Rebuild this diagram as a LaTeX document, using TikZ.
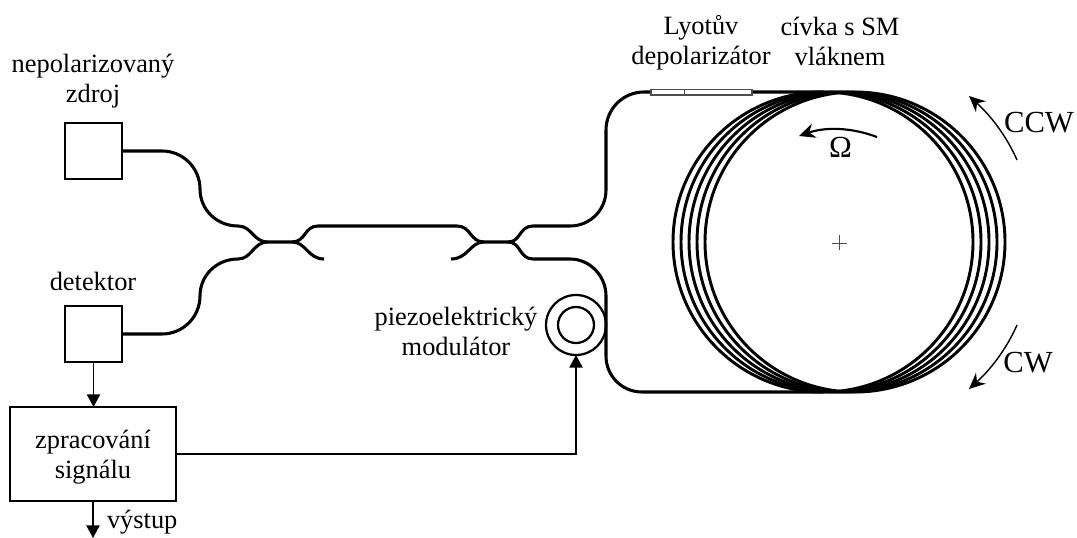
\documentclass[tikz,border=0pt]{standalone}
\usepackage{fontspec}
\setmainfont{Liberation Serif}
\usetikzlibrary{arrows.meta,calc}
\tikzset{
  fibre/.style={line width=2.3pt,line cap=butt,line join=round},
  coilfibre/.style={line width=2.2pt},
  boxnode/.style={draw,line width=1.05pt,fill=white,inner sep=0pt,outer sep=0pt},
  label/.style={inner sep=0pt,outer sep=0pt,align=center,font=\fontsize{19.8}{22.5}\selectfont},
  bigl/.style={inner sep=0pt,outer sep=0pt,font=\fontsize{23}{26}\selectfont},
  sig/.style={line width=1.05pt,-{Triangle[length=9.5pt,width=10pt]}},
  rot/.style={line width=1.05pt,-{Stealth[length=12pt,width=11pt]}},
  ring/.style={circle,draw,line width=1.7pt,inner sep=0pt,outer sep=0pt},
}
\begin{document}
\begin{tikzpicture}[x=0.75pt,y=-0.75pt]
\useasboundingbox (0,0) rectangle (1077,538);
% boxes
\node[boxnode,minimum width=42.75pt,minimum height=42pt] (src) at (93.5,151) {};
\node[boxnode,minimum width=42.75pt,minimum height=42pt] (det) at (93.5,334) {};
\node[boxnode,minimum width=124.5pt,minimum height=70.5pt] (proc) at (93,454) {};
\node[label] (proctext) at (93,457) {zpracování\\signálu};
% labels
\node[label] (srcl) at (93,81) {nepolarizovaný\\zdroj};
\node[label] (detl) at (93,281) {detektor};
\node[label] (lyot) at (701,43) {Lyotův\\depolarizátor};
\node[label] (spool) at (840,41) {cívka s SM\\vláknem};
\node[label] (piezol) at (456,331) {piezoelektrický\\modulátor};
\node[label,anchor=west] (outl) at (107,522) {výstup};
\node[bigl] (ccw) at (1039,123) {CCW};
\node[bigl] (cw) at (1028,363) {CW};
\node[bigl] (omega) at (840.5,147) {Ω};
% centre mark
\coordinate (cc) at (839,243);
\draw[line width=.6pt,black!70] ($(cc)+(-7.5,0)$) -- ($(cc)+(7.5,0)$) ($(cc)+(0,-7.5)$) -- ($(cc)+(0,7.5)$);
% couplers
\coordinate (a1) at (268,242); \coordinate (a2) at (292,242);
\coordinate (b1) at (484,242); \coordinate (b2) at (508,242);
\coordinate (stubL) at (324,259); \coordinate (stubR) at (451,259);
\coordinate (coilT) at (823,92); \coordinate (coilB) at (823,392);
% modulator
\node[ring,minimum size=45pt] (mod) at (576,325) {};
\node[ring,minimum size=27pt] (modin) at (576,325) {};
% fibres
\draw[fibre] (src.east) -- (162,151) .. controls (183,151) and (200,168) .. (200,189)
  .. controls (200,210) and (217,226) .. (238,226)
  .. controls (252,226) and (253,242) .. (a1) -- (a2)
  .. controls (306,242) and (304,226) .. (318,226) -- (457,226)
  .. controls (471,226) and (470,242) .. (b1) -- (b2)
  .. controls (521,242) and (519,226) .. (533,226) -- (570,226)
  .. controls (590,226) and (606,210) .. (606,190) -- (606,130)
  .. controls (606,109) and (623,92) .. (644,92) -- (coilT);
\draw[fibre] (det.east) -- (162,334) .. controls (183,334) and (200,317) .. (200,296)
  .. controls (200,275) and (217,259) .. (238,259)
  .. controls (252,259) and (253,242) .. (a1);
\draw[fibre] (a2) .. controls (306,242) and (308,259) .. (stubL);
\draw[fibre] (stubR) .. controls (468,259) and (470,242) .. (b1);
\draw[fibre] (b2) .. controls (521,242) and (519,259) .. (533,259) -- (570,259)
  .. controls (590,259) and (606,276) .. (606,296) -- (606,356)
  .. controls (606,376) and (622,392) .. (642,392) -- (coilB);
% coil
\foreach \cx in {823,831,839,847,855}
  \draw[coilfibre] (\cx,242) circle (150);
% depolarizer
\draw[line width=.8pt,fill=white,draw=black!70] (651,89.5) rectangle (752,95);
\draw[line width=.8pt,draw=black!70] (684.5,89.5) -- (684.5,95);
% signals
\draw[sig] (det.south) -- (det.south |- proc.north);
\draw[sig] (proc.east) -| (mod.south);
\coordinate (outend) at (93,538);
\draw[sig] (proc.south) -- (outend);
% rotation arrows
\coordinate (ccw1) at (1017,160); \coordinate (ccw2) at (969,96);
\coordinate (cw1) at (1017,325); \coordinate (cw2) at (969,389);
\coordinate (om1) at (877,137); \coordinate (om2) at (799,136);
\draw[rot] (ccw1) .. controls (1006,135) and (990,115) .. (ccw2);
\draw[rot] (cw1) .. controls (1006,350) and (990,370) .. (cw2);
\draw[rot,line width=1.6pt] (om1) .. controls (850,127) and (825,127) .. (om2);
\end{tikzpicture}
\end{document}
